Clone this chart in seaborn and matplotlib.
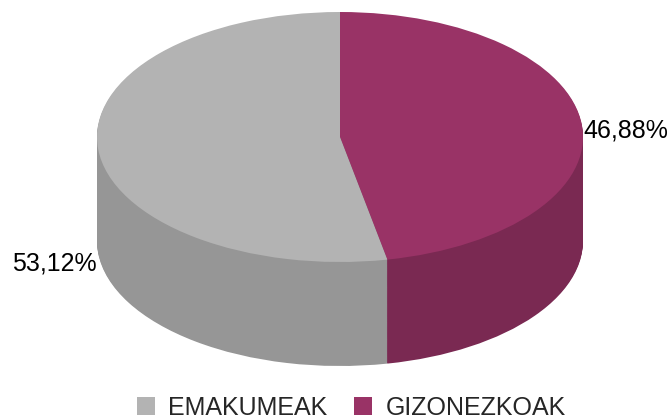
import numpy as np
import matplotlib.pyplot as plt
import seaborn as sns
from matplotlib.patches import Patch

sns.set_theme(style='white')
plt.rcParams['font.family'] = ['Liberation Sans', 'DejaVu Sans']

# Datos
categorias = ['GIZONEZKOAK', 'EMAKUMEAK']
porcentajes = [46.88, 53.12]
etiquetas = ['46,88%', '53,12%']
colores_top = ['#993366', '#B3B3B3']
colores_lado = ['#7A2952', '#969696']

# Geometria (pixeles): centro, radios de la elipse y grosor
W, H = 669, 419
cx, cy = 340, 137
rx, ry = 243, 125
grosor = 104

fig = plt.figure(figsize=(W / 100, H / 100), dpi=100)
ax = fig.add_axes([0, 0, 1, 1])

# Lado del pastel: capas apiladas
n_capas = 110
for k in range(n_capas, 0, -1):
    dy = -grosor / ry * k / n_capas
    ax.pie(porcentajes, colors=colores_lado, startangle=90, counterclock=False,
           center=(0, dy), radius=1, wedgeprops=dict(linewidth=0))

# Cara superior
ax.pie(porcentajes, colors=colores_top, startangle=90, counterclock=False,
       center=(0, 0), radius=1, wedgeprops=dict(linewidth=0))

ax.set_aspect('auto')
ax.set_xlim(-cx / rx, (W - cx) / rx)
ax.set_ylim(-(H - cy) / ry, cy / ry)
ax.axis('off')

# Etiquetas de porcentaje
ax.text(1.0, 0.05, etiquetas[0], fontsize=18, ha='left', va='center', color='black')
ax.text(-1.0, -1.01, etiquetas[1], fontsize=18, ha='right', va='center', color='black')

# Leyenda
handles = [Patch(facecolor=colores_top[1], edgecolor='none'),
           Patch(facecolor=colores_top[0], edgecolor='none')]
fig.legend(handles, [categorias[1], categorias[0]], loc='lower center', ncol=2,
           bbox_to_anchor=(0.525, -0.055), frameon=False, fontsize=18,
           handlelength=0.72, handleheight=0.72, handletextpad=0.55,
           columnspacing=1.05)

plt.savefig('out.png', dpi=100)
